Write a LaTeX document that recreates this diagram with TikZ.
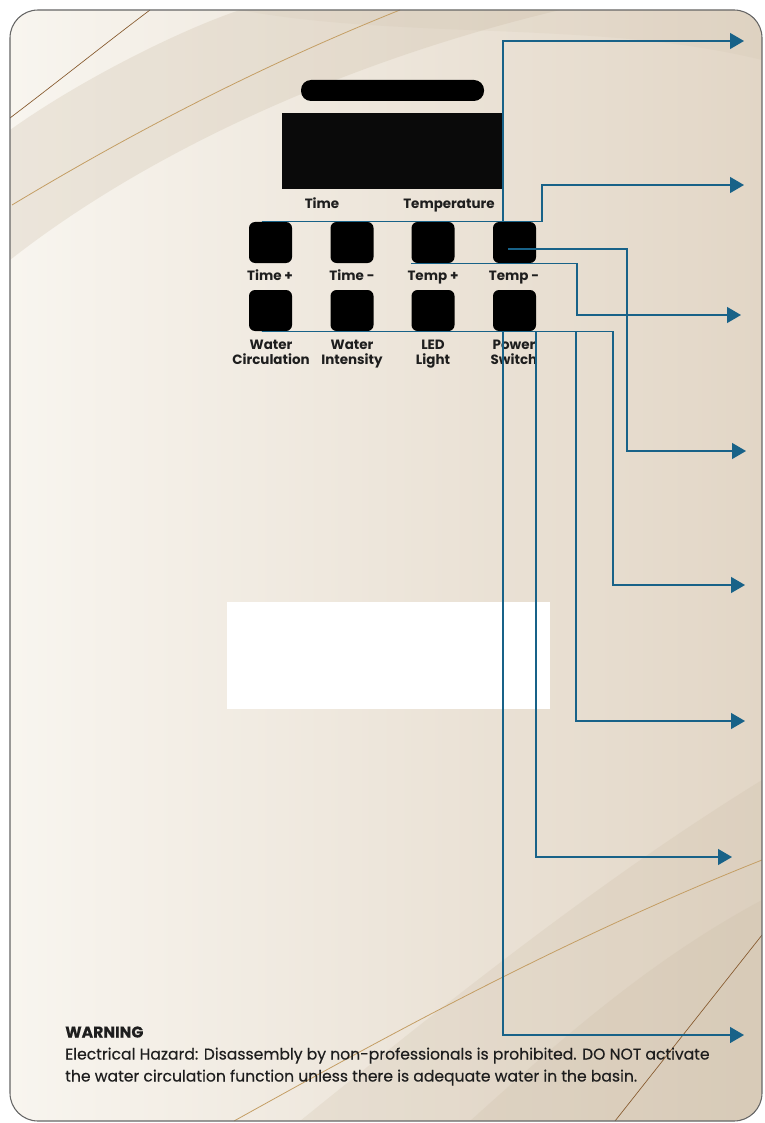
\documentclass[tikz,border=0pt]{standalone}
\usepackage{fontspec}
\setmainfont{Poppins}
\usetikzlibrary{arrows.meta,positioning}

\definecolor{leadblue}{RGB}{24,98,136}
\definecolor{cardleft}{RGB}{248,245,239}
\definecolor{cardright}{RGB}{226,214,198}
\definecolor{bandtan}{RGB}{200,184,160}
\definecolor{goldline}{RGB}{196,158,100}
\definecolor{inkdark}{RGB}{30,30,30}

\tikzset{
  key/.style={fill=black, rounded corners=4.5pt, minimum width=32.25pt,
    minimum height=30.75pt, inner sep=0pt},
  keylabel/.style={font=\bfseries\fontsize{10.1}{11.25}\selectfont, text=inkdark,
    align=center, inner sep=0pt, anchor=base},
  lead/.style={draw=leadblue, line width=1pt, -{Triangle[length=10.5pt,width=12pt]}},
}

\begin{document}
\begin{tikzpicture}[x=0.75pt,y=-0.75pt]
\useasboundingbox (0,0) rectangle (764,1123);

% card with its background
\begin{scope}
  \clip[rounded corners=21pt] (10,10) rectangle (762,1121);
  \fill[left color=cardleft, right color=cardright] (10,10) rectangle (762,1121);
  \fill[bandtan, opacity=0.25] (10,130) .. controls (80,80) and (180,30) .. (240,10)
    -- (560,10) .. controls (350,60) and (150,150) .. (10,260) -- cycle;
  \fill[bandtan, opacity=0.12] (240,10) .. controls (400,40) and (600,20) .. (762,60)
    -- (762,10) -- cycle;
  \fill[bandtan, opacity=0.2] (300,1121) .. controls (450,1000) and (600,880) .. (762,780)
    -- (762,1121) -- cycle;
  \fill[bandtan, opacity=0.2] (470,1121) .. controls (560,1040) and (650,960) .. (762,900)
    -- (762,1121) -- cycle;
  \draw[brown!70!black, line width=0.5pt] (10,118) .. controls (60,80) and (110,40) .. (150,10);
  \draw[goldline, line width=0.6pt] (12,205) .. controls (120,140) and (250,70) .. (400,10);
  \draw[goldline, line width=0.6pt] (234,1121) .. controls (380,1040) and (560,940) .. (762,860);
  \draw[brown!70!black, line width=0.5pt] (615,1121) -- (762,935);
\end{scope}
\draw[black!60, line width=0.8pt, rounded corners=21pt] (10,10) rectangle (762,1121);

% display
\node[fill=black, rounded corners=7.5pt, minimum width=137.25pt, minimum height=15.75pt,
  inner sep=0pt] (pill) at (392.5,90.5) {};
\node[fill=black!96, minimum width=165pt, minimum height=57pt, inner sep=0pt] (disp) at (392,151) {};
\node[keylabel] (ltime) at (322,209) {Time};
\node[keylabel] (ltemp) at (449,209) {Temperature};

% keys
\node[key] (tplus)  at (270.5,242.5) {};
\node[key] (tminus) at (352,242.5) {};
\node[key] (cplus)  at (433,242.5) {};
\node[key] (cminus) at (514.5,242.5) {};
\node[key] (wcirc)  at (270.5,310.5) {};
\node[key] (wint)   at (352,310.5) {};
\node[key] (led)    at (433,310.5) {};
\node[key] (pwr)    at (514.5,310.5) {};

\node[keylabel] (ltplus)  at (270,280) {Time +};
\node[keylabel] (ltminus) at (352,280) {Time -};
\node[keylabel] (lcplus)  at (433,280) {Temp +};
\node[keylabel] (lcminus) at (514,280) {Temp -};
\node[keylabel] (lwcirc)  at (271,364.5) {Water\\Circulation};
\node[keylabel] (lwint)   at (352,364.5) {Water\\Intensity};
\node[keylabel] (lled)    at (433,364.5) {LED\\Light};
\node[keylabel] (lpwr)    at (514,364.5) {Power\\Switch};

\node[fill=white, minimum width=242.25pt, minimum height=80.25pt, inner sep=0pt] (blank) at (388.5,655.5) {};

\node[anchor=west, align=left, text=inkdark, inner sep=0pt,
  font=\fontsize{11.7}{16.5}\selectfont\addfontfeatures{FakeBold=0.4}] (warn) at (65,1056)
  {\textbf{WARNING}\\
   Electrical Hazard: Disassembly by non-professionals is prohibited. DO NOT activate\\
   the water circulation function unless there is adequate water in the basin.};

% connectors
\coordinate (s1) at ([xshift=9.75pt]tplus.north west);
\coordinate (s3) at (cplus.south west);
\coordinate (s4) at ([xshift=-4.9pt,yshift=-4.9pt]cminus.center);
\coordinate (s5) at ([xshift=9.75pt]wcirc.south west);
\foreach \n/\x/\y in {1/744/41, 2/744/185, 3/741/315, 4/746/451,
                      5/745/585, 6/745/721, 7/732/857, 8/744/1035}
  \coordinate (e\n) at (\x,\y);
\foreach \s/\c/\e in {s1/503/e1, s1/542/e2, s3/577/e3, s4/627/e4,
                      s5/613/e5, s5/576/e6, s5/536/e7, s5/503/e8}{
  \coordinate (col) at (\c,0);
  \draw[lead] (\s) -- (\s -| col) |- (\e);
}
\end{tikzpicture}
\end{document}
